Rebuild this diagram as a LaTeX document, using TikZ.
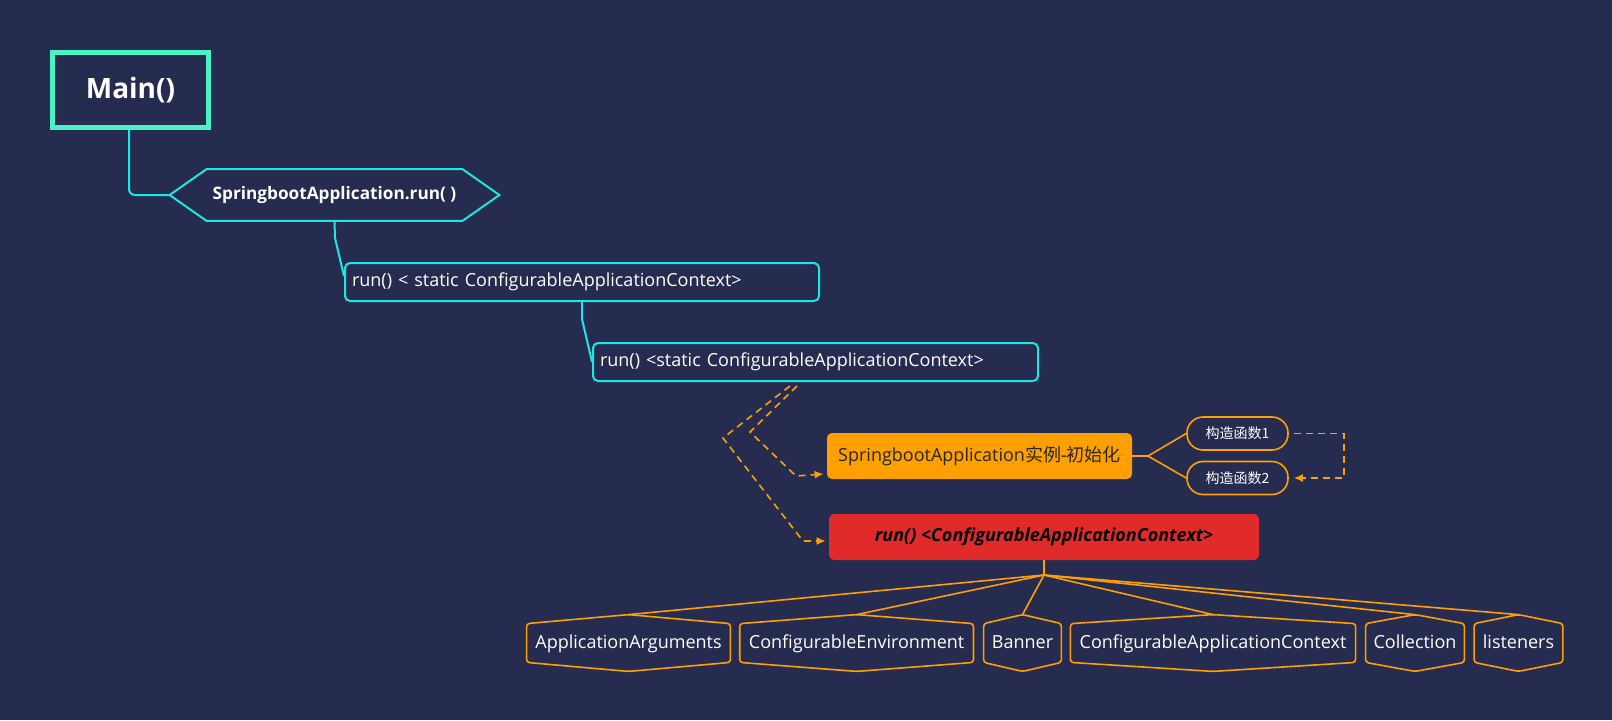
\documentclass[tikz,border=0pt]{standalone}
\usepackage{fontspec}
\setmainfont{Open Sans}
\newfontfamily\cjk{Noto Sans CJK SC}
\usetikzlibrary{calc,arrows.meta}
\definecolor{bg}{HTML}{262C50}
\definecolor{mint}{HTML}{4AF2C6}
\definecolor{cyanl}{HTML}{1FE5E3}
\definecolor{orng}{HTML}{FFA000}
\definecolor{redb}{HTML}{E12B2B}
\begin{document}
\begin{tikzpicture}[x=0.5pt,y=-0.5pt,
  mainbox/.style={draw=mint, line width=2.5pt, fill=bg, minimum width=78pt, minimum height=37.5pt, inner sep=0pt, text=white, font=\bfseries\fontsize{14}{16}\selectfont},
  hexnode/.style={minimum width=164.5pt, minimum height=25.5pt, inner sep=0pt, text=white, font=\bfseries\fontsize{8.6}{10}\selectfont},
  cyanline/.style={draw=cyanl, line width=1pt},
  runbox/.style={draw=cyanl, line width=1pt, rounded corners=2.5pt, fill=bg, text=white, font=\fontsize{9}{11}\selectfont, align=left, inner xsep=3.5pt, inner ysep=0pt, minimum height=19pt, anchor=north west},
  orangebox/.style={fill=orng, rounded corners=2.5pt, minimum width=152.5pt, minimum height=23pt, inner sep=0pt, text=black!85, font=\fontsize{9}{11}\selectfont},
  redbox/.style={fill=redb, rounded corners=2.5pt, minimum width=215pt, minimum height=23pt, inner sep=0pt, text=black, font=\bfseries\itshape\fontsize{9}{11}\selectfont},
  pill/.style={draw=orng, line width=0.8pt, fill=bg, rounded corners=8pt, minimum width=50.5pt, minimum height=16.5pt, inner sep=0pt, text=white, font=\cjk\fontsize{7}{8}\selectfont},
  leaf/.style={minimum height=19pt, inner sep=0pt, text height=6.5pt, text depth=1.5pt, text=white, font=\fontsize{9}{11}\selectfont},
  orangeline/.style={draw=orng, line width=0.8pt},
  dashline/.style={draw=orng, line width=0.8pt, dash pattern=on 3.5pt off 2.5pt, -{Latex[length=4.5pt,width=4pt]}}
]
\fill[bg] (0,0) rectangle (1612,720);
\useasboundingbox (0,0) rectangle (1612,720);

% main
\node[mainbox] (main) at (130.5,90) {Main()};
% hexagon
\node[hexnode] (hex) at (334.5,195) {SpringbootApplication.run( )};
\draw[cyanline] (hex.west) -- ($(hex.north west)+(37,0)$) -- ($(hex.north east)+(-37,0)$) -- (hex.east) -- ($(hex.south east)+(-37,0)$) -- ($(hex.south west)+(37,0)$) -- cycle;
\draw[cyanline, rounded corners=3pt] ([xshift=-0.75pt]main.south) |- (hex.west);

% run boxes
\node[runbox, text width=230pt] (box1) at (344,262) {run() < static ConfigurableApplicationContext>};
\node[runbox, text width=215.5pt] (box2) at (592,342) {run() <static ConfigurableApplicationContext>};
\coordinate (b1bend) at (335,238);
\draw[cyanline] (hex.south) -- (b1bend) -- ([yshift=3pt]box1.west);
\coordinate (b2bend) at (582,319);
\draw[cyanline] ([xshift=119pt]box1.south west) -- (b2bend) -- (box2.west);

% orange and red boxes
\node[orangebox] (orange) at (979.5,456) {SpringbootApplication{\cjk 实例}-{\cjk 初始化}};
\node[redbox] (red) at (1044,537) {run() <ConfigurableApplicationContext>};

\coordinate (d1b) at (723,438);
\coordinate (d1c) at (803,541);
\coordinate (d2b) at (750,432);
\coordinate (d2c) at (796,476);
\draw[dashline] ([xshift=-12.75pt,yshift=-2pt]box2.south) -- (d1b) -- (d1c) -- ([xshift=-1.5pt,yshift=-2pt]red.west);
\draw[dashline] ([xshift=-9.25pt,yshift=-2pt]box2.south) -- (d2b) -- (d2c) -- ([xshift=-1.5pt,yshift=-9pt]orange.west);

% pills
\node[pill] (p1) at (1237.5,433.5) {构造函数1};
\node[pill] (p2) at (1237.5,478) {构造函数2};
\coordinate (pj) at (1148,456);
\draw[orangeline] (orange.east) -- (pj);
\draw[orangeline] (pj) -- (p1.west);
\draw[orangeline] (pj) -- (p2.west);
\draw[dashline] ([xshift=2.5pt]p1.east) -- ++(50,0) |- ([xshift=2.5pt]p2.east);

% leaves
\node[leaf, minimum width=101.5pt] (aa) at (628.5,643) {ApplicationArguments};
\node[leaf, minimum width=116.5pt] (ce) at (856.6,643) {ConfigurableEnvironment};
\node[leaf, minimum width=38.5pt] (bn) at (1022.5,643) {Banner};
\node[leaf, minimum width=142.25pt] (cac) at (1213,643) {ConfigurableApplicationContext};
\node[leaf, minimum width=49pt] (col) at (1415,643) {Collection};
\node[leaf, minimum width=44pt] (lis) at (1518.5,643) {listeners};
\foreach \n in {aa,ce,bn,cac,col,lis}{
  \draw[orangeline, rounded corners=1.5pt] (\n.north west) -- ($(\n.north)+(0,-9)$) -- (\n.north east) -- (\n.south east) -- ($(\n.south)+(0,9)$) -- (\n.south west) -- cycle;
}
\coordinate (junc) at (1044,575);
\draw[orangeline] (red.south) -- (junc);
\foreach \n in {aa,ce,bn,cac,col,lis}{
  \draw[orangeline] (junc) -- ($(\n.north)+(0,-9)$);
}
\end{tikzpicture}
\end{document}
